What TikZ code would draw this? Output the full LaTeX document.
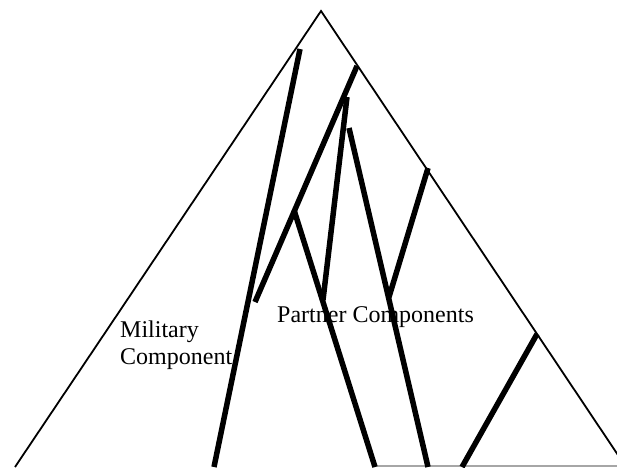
\documentclass[tikz,border=0pt]{standalone}
\usepackage{fontspec}
\setmainfont{Liberation Serif}
\usepackage{tikz}
\usetikzlibrary{positioning}
\tikzstyle{outline} = [draw=black, line width=1.8pt]
\tikzstyle{branch} = [draw=black, line width=5.5pt]
\tikzstyle{groupname} = [inner sep=0pt, font=\fontsize{24}{27}\selectfont, align=left]

\begin{document}
\begin{tikzpicture}[x=1pt, y=-1pt]
    \useasboundingbox (0,0) rectangle (617,467);
    \clip (0,0) rectangle (617,467);
    % Points
    \coordinate (apex) at (321,11);
    \coordinate (baseL) at (15,467);
    \coordinate (baseR) at (626,467);
    \coordinate (a1) at (300,49);  \coordinate (a2) at (214,467);
    \coordinate (b1) at (357,66);  \coordinate (b2) at (255,302);
    \coordinate (c1) at (347,97);  \coordinate (c2) at (323,300);
    \coordinate (d1) at (294,210); \coordinate (d2) at (375,467);
    \coordinate (e1) at (349,128); \coordinate (e2) at (428,467);
    \coordinate (f1) at (428,168); \coordinate (f2) at (389,297);
    \coordinate (g1) at (537,334); \coordinate (g2) at (462,467);
    \coordinate (ground1) at (376,466); \coordinate (ground2) at (617,466);
    % Nodes
    \node [groupname, anchor=base west] (military) at (120,337) {Military};
    \node [groupname, anchor=base west] (military2) at (120,364) {Component};
    \node [groupname, anchor=base west] (partner) at (277,322) {Partner Components};
    % Edges
    \path [outline] (baseL) -- (apex) -- (baseR);
    \path [draw=black!35, line width=1.2pt] (ground1) -- (ground2);
    \path [branch] (a1) -- (a2);
    \path [branch] (b1) -- (b2);
    \path [branch] (c1) -- (c2);
    \path [branch] (d1) -- (d2);
    \path [branch] (e1) -- (e2);
    \path [branch] (f1) -- (f2);
    \path [branch] (g1) -- (g2);
\end{tikzpicture}
\end{document}
